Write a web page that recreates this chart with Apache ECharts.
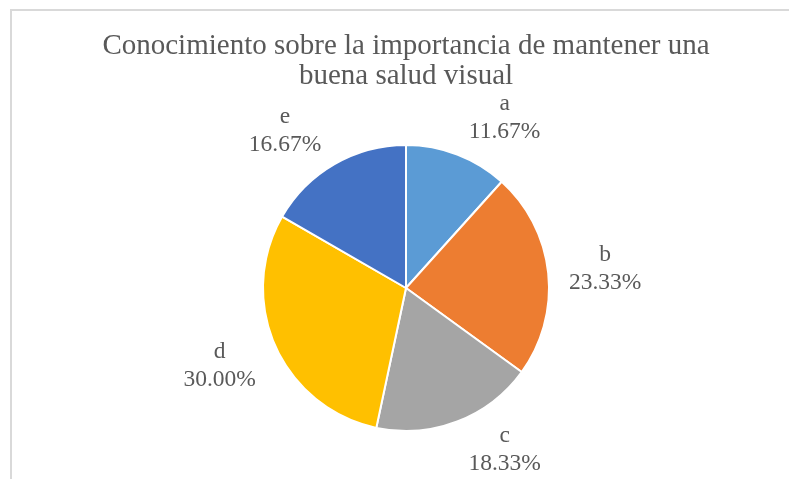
<!DOCTYPE html>
<html>
<head>
<meta charset="utf-8">
<title>Conocimiento sobre la importancia de mantener una buena salud visual</title>
<script src="https://cdn.jsdelivr.net/npm/echarts@6/dist/echarts.min.js"></script>
<style>
  html, body { margin: 0; padding: 0; background: #fff; }
  #pieChart { width: 789px; height: 479px; }
</style>
</head>
<body>
<div id="pieChart"></div>
<script>
// datos
const categories = ["a", "b", "c", "d", "e"];
const percents = [11.67, 23.33, 18.33, 30.0, 16.67];
const colors = ["#5b9bd5", "#ed7d31", "#a5a5a5", "#ffc000", "#4472c4"];

const cx = 406, cy = 288, r = 143;
const total = percents.reduce((s, v) => s + v, 0);
const cum = [];
percents.reduce((s, v, i) => { cum[i] = s; return s + v; }, 0);

let pieData = categories.map((c, i) => ({
  name: c,
  value: percents[i],
  itemStyle: { color: colors[i] }
}));

let pieChart = echarts.init(document.getElementById("pieChart"));
let option = {
  animation: false,
  title: {
    text: "Conocimiento sobre la importancia de mantener una\nbuena salud visual",
    left: 401,
    textAlign: "center",
    top: 26,
    textStyle: {
      fontFamily: "Liberation Serif",
      fontWeight: "normal",
      fontSize: 29,
      lineHeight: 30,
      color: "#595959"
    }
  },
  graphic: [
    {
      type: "rect",
      shape: { x: 11, y: 10, width: 900, height: 600 },
      style: { fill: "none", stroke: "#d9d9d9", lineWidth: 2 },
      silent: true
    }
  ],
  series: [
    {
      type: "pie",
      center: [cx, cy],
      radius: r,
      startAngle: 90,
      clockwise: true,
      avoidLabelOverlap: false,
      data: pieData,
      itemStyle: { borderColor: "#fff", borderWidth: 2 },
      label: {
        show: true,
        position: "outside",
        fontFamily: "Liberation Serif",
        fontSize: 23.5,
        lineHeight: 28,
        color: "#595959",
        formatter: p => p.name + "\n" + p.value.toFixed(2) + "%"
      },
      labelLine: { show: false },
      // etiquetas colocadas como en Excel, fuera de cada sector
      labelLayout: function (p) {
        const i = p.dataIndex;
        const mid = (cum[i] + percents[i] / 2) / total * Math.PI * 2;
        const ux = Math.sin(mid), uy = -Math.cos(mid);
        const offY = uy > 0 ? Math.min(14, 35 * uy) : 24 * uy;
        return {
          x: cx + (r + 15) * ux + Math.sign(ux) * 42,
          y: cy + (r + 15) * uy + offY,
          align: "center",
          verticalAlign: "middle"
        };
      }
    }
  ]
};
pieChart.setOption(option);
</script>
</body>
</html>
